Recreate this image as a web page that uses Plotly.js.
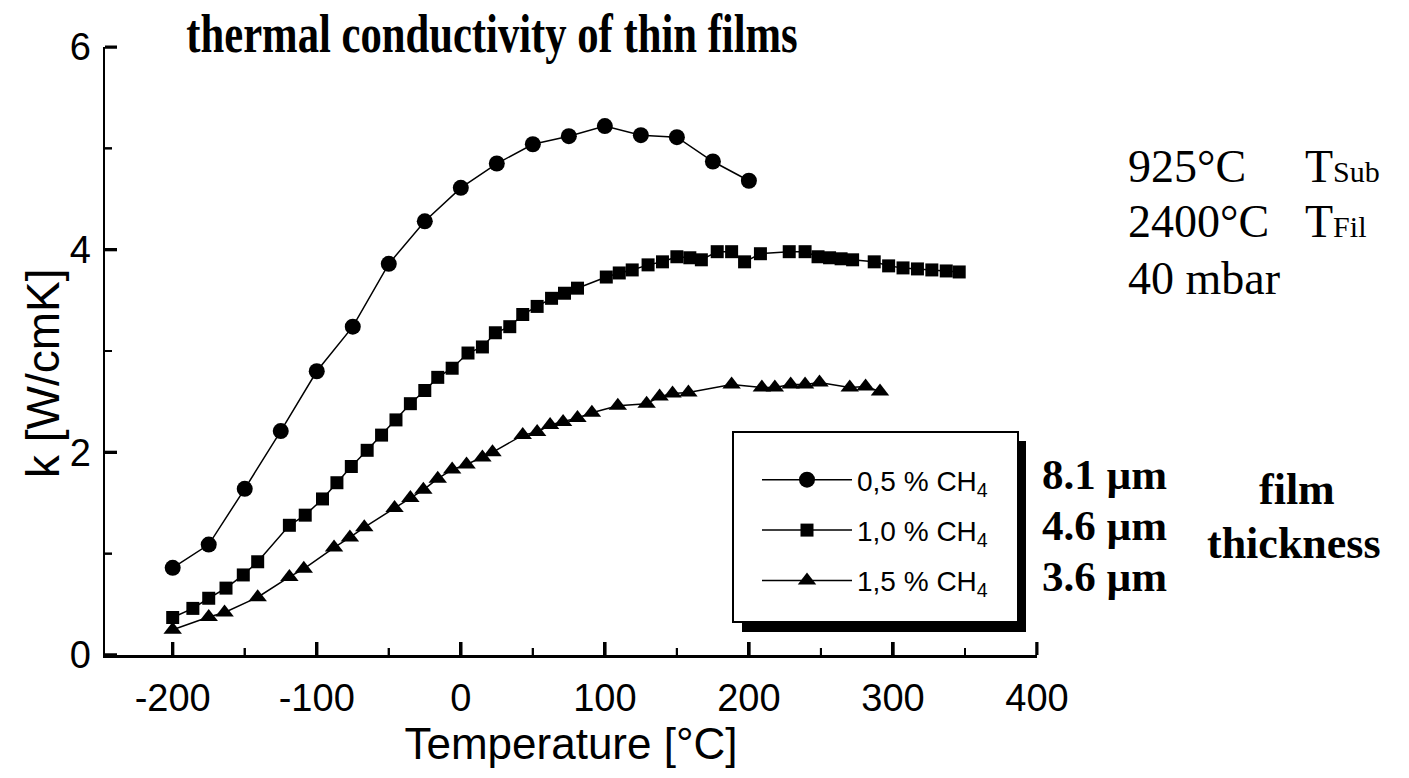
<!DOCTYPE html>
<html>
<head>
<meta charset="utf-8">
<script src="https://cdn.plot.ly/plotly-3.0.1.min.js"></script>
<style>
html,body{margin:0;padding:0;background:#fff;}
#chart{width:1409px;height:778px;}
</style>
</head>
<body>
<div id="chart"></div>
<script>
// ---- data ----
const temp05 = [-200,-175,-150,-125,-100,-75,-50,-25,0,25,50,75,100,125,150,175,200];
const k05    = [0.86,1.09,1.64,2.21,2.80,3.24,3.86,4.28,4.61,4.85,5.04,5.12,5.22,5.13,5.11,4.87,4.68];

const temp10 = [-200,-186,-175,-163,-151,-141,-119,-108,-96,-86,-76,-65,-55,-45,-35,-25,-16,-6,5,15,24,34,43,53,63,72,81,
                101,110,119,130,140,150,159,167,178,188,197,208,228,239,248,256,264,272,287,297,307,317,327,337,346];
const k10    = [0.37,0.46,0.56,0.66,0.79,0.92,1.28,1.38,1.54,1.70,1.86,2.02,2.17,2.32,2.48,2.61,2.74,2.83,2.98,3.04,3.18,3.24,3.36,3.44,3.52,3.57,3.62,
                3.73,3.77,3.80,3.85,3.88,3.93,3.92,3.90,3.98,3.98,3.88,3.96,3.98,3.98,3.93,3.92,3.91,3.90,3.88,3.84,3.82,3.81,3.80,3.79,3.78];

const temp15 = [-200,-175,-164,-141,-119,-109,-88,-77,-67,-46,-35,-26,-16,-6,4,15,22,43,53,62,71,81,91,
                109,129,138,147,158,188,209,218,229,239,249,270,281,291];
const k15    = [0.25,0.375,0.42,0.57,0.77,0.85,1.06,1.16,1.26,1.45,1.55,1.63,1.74,1.83,1.88,1.95,2.00,2.17,2.20,2.27,2.30,2.34,2.39,
                2.46,2.48,2.55,2.58,2.59,2.67,2.64,2.64,2.67,2.67,2.69,2.64,2.65,2.60];

const seriesNames = ['0,5 % CH<sub>4</sub>','1,0 % CH<sub>4</sub>','1,5 % CH<sub>4</sub>'];
const thickness   = ['8.1 µm','4.6 µm','3.6 µm'];

const xTickVals = [-200,-100,0,100,200,300,400];
const xTickText = ['-200','-100','0','100','200','300','400'];
const xMinorTickVals = [-150,-50,50,150,250,350];
const yTickVals = [0,2,4,6];
const yTickText = ['0','2','4','6'];
const yMinorTickVals = [1,3,5];

const chartTitle = 'thermal conductivity of thin films';
const xTitle = 'Temperature [°C]';
const yTitle = 'k [W/cmK]';
const conditions = [
  ['925°C', 'T<span style="font-size:30px">Sub</span>'],
  ['2400°C','T<span style="font-size:30px">Fil</span>'],
  ['40 mbar','']
];
const thicknessLabel = ['film','thickness'];

// ---- layout helpers (pixel -> paper) ----
const W = 1409, H = 778;
const L = 105, R = 1037, T = 47, B = 655;
const px = v => (v - L) / (R - L);
const py = v => (B - v) / (B - T);
const xRange = [-247, 400], yRange = [0, 6];

const SANS = 'Liberation Sans, Arial, sans-serif';
const SERIF = 'Liberation Serif, Times New Roman, serif';

const lineStyle = {color:'#000', width:1.5};
const traces = [
  {x:temp05, y:k05, name:seriesNames[0], legendgroup:'a', mode:'lines+markers', line:lineStyle,
   marker:{symbol:'circle', size:16, color:'#000'}},
  {x:temp10, y:k10, name:seriesNames[1], legendgroup:'b', mode:'lines+markers', line:lineStyle,
   marker:{symbol:'square', size:13, color:'#000'}},
  {x:temp15, y:k15, name:seriesNames[2], legendgroup:'c', mode:'lines+markers', line:lineStyle,
   marker:{symbol:'triangle-up', size:16, color:'#000'}}
];

const annotations = [];
annotations.push({xref:'paper', yref:'paper', x:px(43), y:py(373), text:yTitle, textangle:-90,
  showarrow:false, xanchor:'center', yanchor:'middle', font:{family:SANS, size:46, color:'#000'}});
const condY = [167, 222, 278];
conditions.forEach((c,i) => {
  annotations.push({xref:'paper', yref:'paper', x:px(1126), y:py(condY[i]), text:c[0], showarrow:false,
    xanchor:'left', yanchor:'middle', font:{family:SERIF, size:46, color:'#000'}});
  if (c[1]) annotations.push({xref:'paper', yref:'paper', x:px(1303), y:py(condY[i]), text:c[1], showarrow:false,
    xanchor:'left', yanchor:'middle', font:{family:SERIF, size:46, color:'#000'}});
});
const thickY = [474, 525, 576];
thickness.forEach((t,i) => {
  annotations.push({xref:'paper', yref:'paper', x:px(1040), y:py(thickY[i]), text:'<b>'+t+'</b>', showarrow:false,
    xanchor:'left', yanchor:'middle', font:{family:SERIF, size:43, color:'#000'}});
});
annotations.push({xref:'paper', yref:'paper', x:px(1297), y:py(489), text:'<b>'+thicknessLabel[0]+'</b>', showarrow:false,
  xanchor:'center', yanchor:'middle', font:{family:SERIF, size:44, color:'#000'}});
annotations.push({xref:'paper', yref:'paper', x:px(1294), y:py(543), text:'<b>'+thicknessLabel[1]+'</b>', showarrow:false,
  xanchor:'center', yanchor:'middle', font:{family:SERIF, size:44, color:'#000'}});

// legend box with drop shadow (shapes 0-2)
const shapes = [
  {type:'rect', xref:'paper', yref:'paper', x0:px(1017), x1:px(1026), y0:py(632), y1:py(441),
   fillcolor:'#000', line:{width:0}},
  {type:'rect', xref:'paper', yref:'paper', x0:px(742), x1:px(1026), y0:py(632), y1:py(622),
   fillcolor:'#000', line:{width:0}},
  {type:'rect', xref:'paper', yref:'paper', x0:px(733), x1:px(1018), y0:py(622), y1:py(432),
   fillcolor:'#fff', line:{color:'#000', width:2}}
];
const LEGEND_SHAPES = shapes.length;
// inward-pointing axis ticks, positioned through the axis scales
const tickShapeX = (v, len, w) => ({type:'line', xref:'x', yref:'paper', x0:v, x1:v, ysizemode:'pixel', yanchor:0,
  y0:0, y1:len, line:{color:'#000', width:w}, layer:'above'});
const tickShapeY = (v, len, w) => ({type:'line', xref:'paper', yref:'y', y0:v, y1:v, xsizemode:'pixel', xanchor:0,
  x0:0, x1:len, line:{color:'#000', width:w}, layer:'above'});
xTickVals.forEach(v => shapes.push(tickShapeX(v, 13, 3)));
xMinorTickVals.forEach(v => shapes.push(tickShapeX(v, 7, 2)));
yTickVals.forEach(v => shapes.push(tickShapeY(v, 12, 3)));
yMinorTickVals.forEach(v => shapes.push(tickShapeY(v, 7, 2)));

const layout = {
  width:W, height:H,
  margin:{l:L, r:W-R, t:T, b:H-B, pad:0},
  paper_bgcolor:'#fff', plot_bgcolor:'rgba(0,0,0,0)',
  showlegend:true,
  title:{text:'<b>'+chartTitle+'</b>', xref:'container', yref:'container', x:492/W, y:1-33/H,
    xanchor:'center', yanchor:'middle', font:{family:SERIF, size:54, color:'#000'}},
  xaxis:{range:xRange, tickmode:'array', tickvals:xTickVals, ticktext:xTickText, ticks:'inside', ticklen:13, tickwidth:3,
    tickcolor:'#000', showline:true, linecolor:'#000', linewidth:2.5, showgrid:false, zeroline:false,
    ticklabelstandoff:8, tickfont:{family:SANS, size:38, color:'#000'},
    title:{text:xTitle, standoff:8, font:{family:SANS, size:44, color:'#000'}}},
  yaxis:{range:yRange, tickmode:'array', tickvals:yTickVals, ticktext:yTickText, ticks:'inside', ticklen:12, tickwidth:3,
    tickcolor:'#000', showline:true, linecolor:'#000', linewidth:2.5, showgrid:false, zeroline:false,
    ticklabelstandoff:4, tickfont:{family:SANS, size:38, color:'#000'}},
  legend:{x:px(757), y:py(455), xanchor:'left', yanchor:'top', bgcolor:'rgba(0,0,0,0)', borderwidth:0,
    font:{family:SANS, size:28, color:'#000'}, tracegroupgap:11, itemwidth:90, itemsizing:'trace'},
  annotations:annotations,
  shapes:shapes
};

Plotly.newPlot('chart', traces, layout, {displayModeBar:false, staticPlot:true}).then(() => {
  // the reference title is set in a condensed face: squeeze it horizontally about its centre
  const t = document.querySelector('.gtitle');
  if (t) {
    const bb = t.getBBox();
    const cx = bb.x + bb.width / 2;
    t.setAttribute('transform', `translate(${cx},0) scale(0.79,1) translate(${-cx},0)`);
  }
  // bring the tick marks (axis ticks + tick shapes) to the topmost svg layer so nothing hides them
  const svgs = document.querySelectorAll('#chart svg.main-svg');
  const top = svgs[svgs.length - 1];
  const g = document.createElementNS('http://www.w3.org/2000/svg', 'g');
  const nodes = Array.from(document.querySelectorAll('#chart path.xtick, #chart path.ytick'));
  document.querySelectorAll('#chart .shapelayer path').forEach(p => {
    const i = parseInt(p.getAttribute('data-index'), 10);
    if (!isNaN(i) && i >= LEGEND_SHAPES) nodes.push(p);
  });
  nodes.forEach(p => {
    const m = p.getCTM();
    const c = p.cloneNode(true);
    if (m) c.setAttribute('transform', `matrix(${m.a},${m.b},${m.c},${m.d},${m.e},${m.f})`);
    c.removeAttribute('clip-path');
    c.style.stroke = '#000';
    c.style.strokeOpacity = '1';
    c.style.fill = 'none';
    c.style.opacity = '1';
    c.style.visibility = 'visible';
    g.appendChild(c);
  });
  top.appendChild(g);
});
</script>
</body>
</html>
